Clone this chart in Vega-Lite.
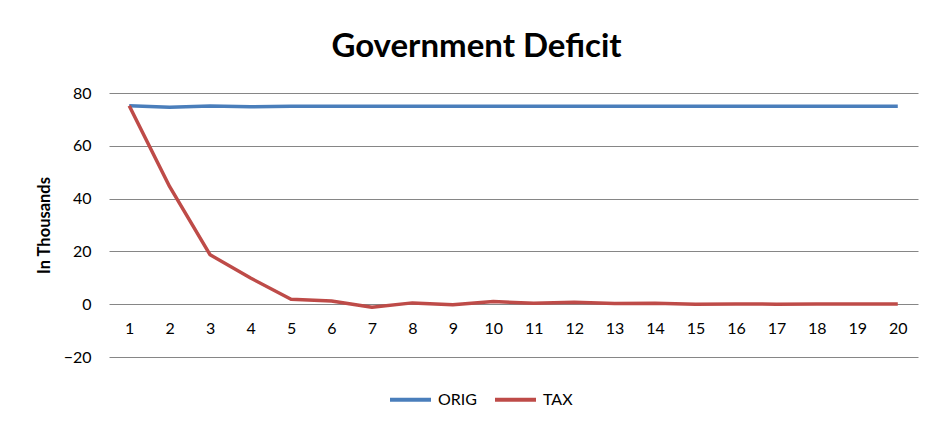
{
  "$schema": "https://vega.github.io/schema/vega-lite/v6.json",
  "width": 809,
  "height": 264,
  "autosize": {"type": "none"},
  "padding": {"left": 109, "top": 93, "right": 12, "bottom": 67},
  "background": "white",
  "config": {
    "view": {"stroke": null},
    "font": "Lato",
    "axis": {"labelFont": "Lato", "titleFont": "Lato", "labelColor": "#000", "titleColor": "#000"}
  },
  "title": {
    "text": "Government Deficit",
    "font": "Lato",
    "fontSize": 33,
    "fontWeight": "bold",
    "color": "#000",
    "anchor": "middle",
    "dx": -37,
    "offset": 21
  },
  "data": {
    "values": [
      {"period": 1, "series": "ORIG", "value": 75.2},
      {"period": 2, "series": "ORIG", "value": 74.6},
      {"period": 3, "series": "ORIG", "value": 75.1},
      {"period": 4, "series": "ORIG", "value": 74.8},
      {"period": 5, "series": "ORIG", "value": 75.0},
      {"period": 6, "series": "ORIG", "value": 75.0},
      {"period": 7, "series": "ORIG", "value": 75.0},
      {"period": 8, "series": "ORIG", "value": 75.0},
      {"period": 9, "series": "ORIG", "value": 75.0},
      {"period": 10, "series": "ORIG", "value": 75.0},
      {"period": 11, "series": "ORIG", "value": 75.0},
      {"period": 12, "series": "ORIG", "value": 75.0},
      {"period": 13, "series": "ORIG", "value": 75.0},
      {"period": 14, "series": "ORIG", "value": 75.0},
      {"period": 15, "series": "ORIG", "value": 75.0},
      {"period": 16, "series": "ORIG", "value": 75.0},
      {"period": 17, "series": "ORIG", "value": 75.0},
      {"period": 18, "series": "ORIG", "value": 75.0},
      {"period": 19, "series": "ORIG", "value": 75.0},
      {"period": 20, "series": "ORIG", "value": 75.0},
      {"period": 1, "series": "TAX", "value": 75.2},
      {"period": 2, "series": "TAX", "value": 44.5},
      {"period": 3, "series": "TAX", "value": 18.7},
      {"period": 4, "series": "TAX", "value": 9.9},
      {"period": 5, "series": "TAX", "value": 1.9},
      {"period": 6, "series": "TAX", "value": 1.25},
      {"period": 7, "series": "TAX", "value": -1.15},
      {"period": 8, "series": "TAX", "value": 0.5},
      {"period": 9, "series": "TAX", "value": -0.2},
      {"period": 10, "series": "TAX", "value": 1.0},
      {"period": 11, "series": "TAX", "value": 0.4},
      {"period": 12, "series": "TAX", "value": 0.75},
      {"period": 13, "series": "TAX", "value": 0.25},
      {"period": 14, "series": "TAX", "value": 0.35},
      {"period": 15, "series": "TAX", "value": 0.0},
      {"period": 16, "series": "TAX", "value": 0.1},
      {"period": 17, "series": "TAX", "value": 0.0},
      {"period": 18, "series": "TAX", "value": 0.05},
      {"period": 19, "series": "TAX", "value": 0.05},
      {"period": 20, "series": "TAX", "value": 0.05}
    ]
  },
  "mark": {"type": "line", "strokeWidth": 3.5, "strokeJoin": "round"},
  "encoding": {
    "x": {
      "field": "period",
      "type": "ordinal",
      "scale": {"type": "point", "padding": 0.5},
      "axis": {
        "title": null,
        "labelAngle": 0,
        "domain": false,
        "ticks": false,
        "grid": false,
        "offset": -53,
        "labelPadding": 16,
        "labelFontSize": 16
      }
    },
    "y": {
      "field": "value",
      "type": "quantitative",
      "scale": {"domain": [-20, 80], "nice": false, "zero": false},
      "axis": {
        "title": "In Thousands",
        "titleFontSize": 16.5,
        "titleFontWeight": "bold",
        "titlePadding": 11,
        "values": [-20, 0, 20, 40, 60, 80],
        "domain": false,
        "ticks": false,
        "grid": true,
        "gridColor": "#868686",
        "gridWidth": 1,
        "gridOpacity": 1,
        "labelPadding": 18,
        "labelFontSize": 16
      }
    },
    "color": {
      "field": "series",
      "type": "nominal",
      "scale": {"domain": ["ORIG", "TAX"], "range": ["#4A7EBB", "#BE4B48"]},
      "legend": {
        "title": null,
        "orient": "none",
        "direction": "horizontal",
        "legendX": 279,
        "legendY": 284,
        "symbolType": "stroke",
        "symbolSize": 1681,
        "symbolStrokeWidth": 4,
        "labelFontSize": 16,
        "labelFont": "Lato",
        "labelColor": "#000",
        "labelOffset": 5,
        "columnPadding": 10
      }
    }
  }
}
